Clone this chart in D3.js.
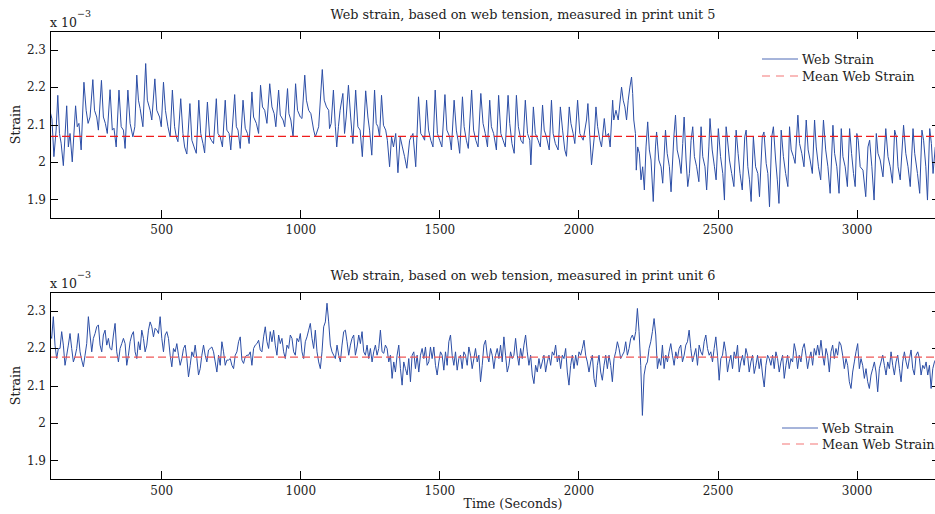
<!DOCTYPE html>
<html>
<head>
<meta charset="utf-8">
<script src="https://cdn.jsdelivr.net/npm/d3@7"></script>
<style>
  html, body { margin: 0; padding: 0; background: #fff; overflow: hidden; }
  svg { display: block; font-family: "DejaVu Serif", "Liberation Serif", serif; }
</style>
</head>
<body>
<svg id="chart" width="935" height="514"></svg>
<script>
// All strain values are expressed in units of 1e-3.
const timeTicks = [500, 1000, 1500, 2000, 2500, 3000];
const strainTicks = [1.9, 2, 2.1, 2.2, 2.3];
const timeDomain = [100, 3300];
const strainDomain = [1.85, 2.35];
const legendLabels = ["Web Strain", "Mean Web Strain"];
const panelTitles = [
  "Web strain, based on web tension, measured in print unit 5",
  "Web strain, based on web tension, measured in print unit 6"
];

// Print unit 5: sample times (s) and strain
const unit5Time = [
  100,102,107,114,122,128,134,140,148,160,
  166,172,180,192,198,204,212,222,230,237,
  244,254,260,268,274,285,292,299,306,316,
  324,330,338,348,356,364,370,380,388,398,
  405,412,418,424,434,444,450,460,466,477,
  484,494,500,508,515,524,532,540,548,554,
  560,570,578,584,592,603,610,618,626,635,
  642,650,656,666,674,680,688,698,704,712,
  720,730,736,744,750,764,770,776,784,794,
  802,810,816,826,832,842,850,857,864,872,
  880,890,898,906,912,922,928,938,944,954,
  959,966,974,983,990,1000,1006,1016,1022,1030,
  1038,1048,1054,1066,1079,1086,1094,1102,
  1105,1111,1119,1126,1131,1137,1143,1153,1159,1165,
  1173,1181,1189,1199,1207,1215,1223,1235,1243,1249,
  1257,1267,1273,1279,1285,1292,1299,1307,1313,1321,
  1328,1335,1343,1351,1359,1367,1375,1383,1393,1405,
  1415,1425,1433,1441,1447,1454,1461,1469,1477,1485,
  1493,1501,1509,1520,1527,1537,1543,1553,1561,1567,
  1573,1583,1589,1597,1604,1616,1623,1631,1639,1649,
  1657,1665,1673,1681,1687,1695,1705,1713,1721,1729,
  1737,1747,1753,1761,1769,1777,1784,1793,1801,1809,
  1817,1825,1829,1838,1845,1855,1863,1871,1877,1885,
  1895,1903,1909,1917,1927,1935,1943,1951,1957,1967,
  1973,1981,1987,1997,2005,2017,2029,2034,2041,2047,
  2057,2063,2069,2077,2083,2093,2099,2108,2114,2123,
  2127,2135,2143,2155,2161,2167,2173,2179,2185,2191,
  2195,2199,2205,2208,2213,2219,2225,2231,2237,2243,
  2249,2255,2261,2269,2277,2281,2289,2297,2303,2313,
  2319,2327,2333,2343,2349,2355,2363,2369,2375,2380,
  2387,2393,2399,2405,2411,2417,2425,2433,2441,2447,
  2455,2461,2469,2473,2481,2489,2495,2503,2511,2519,
  2525,2531,2535,2543,2551,2559,2567,2574,2581,2589,
  2598,2603,2609,2615,2621,2629,2637,2645,2651,2661,
  2667,2675,2681,2687,2695,2701,2709,2715,2721,2729,
  2737,2745,2753,2759,2765,2773,2779,2789,2795,2803,
  2811,2819,2826,2833,2841,2849,2855,2863,2871,2881,
  2889,2897,2905,2915,2921,2929,2937,2945,2951,2959,
  2967,2975,2982,2989,2995,3001,3006,3013,3023,3033,
  3041,3047,3055,3063,3071,3077,3085,3095,3105,3113,
  3121,3129,3137,3143,3149,3157,3169,3177,3185,3193,
  3203,3209,3219,3227,3235,3241,3249,3255,3263,3269,
  3275,3283
];
const unit5Strain = [
  2.19,2.13,2.115,2.014,2.085,2.178,2.076,2.05,1.99,2.15,
  2.04,2.076,2.0,2.15,2.094,2.103,2.032,2.213,2.138,2.103,
  2.12,2.22,2.138,2.12,2.085,2.218,2.12,2.103,2.076,2.193,
  2.085,2.09,2.04,2.192,2.094,2.085,2.036,2.192,2.103,2.067,
  2.094,2.232,2.165,2.143,2.094,2.263,2.165,2.138,2.112,2.222,
  2.138,2.12,2.094,2.213,2.138,2.094,2.067,2.192,2.094,2.067,
  2.054,2.169,2.076,2.04,2.021,2.156,2.058,2.04,2.023,2.165,
  2.076,2.049,2.024,2.16,2.067,2.058,2.049,2.169,2.076,2.067,
  2.04,2.165,2.085,2.076,2.032,2.18,2.094,2.085,2.036,2.165,
  2.09,2.076,2.049,2.187,2.12,2.103,2.076,2.205,2.147,2.138,
  2.103,2.209,2.147,2.129,2.094,2.192,2.125,2.112,2.094,2.196,
  2.129,2.112,2.067,2.209,2.138,2.12,2.116,2.232,2.165,2.138,
  2.129,2.085,2.067,2.094,2.247,2.165,2.147,2.138,
  2.089,2.103,2.192,2.094,2.04,2.094,2.138,2.183,2.076,2.12,
  2.205,2.12,2.049,2.192,2.094,2.085,2.014,2.19,2.12,2.085,
  2.018,2.192,2.103,2.094,2.067,2.178,2.098,2.085,2.058,1.987,
  2.067,2.04,2.076,1.971,2.067,2.04,2.014,1.983,2.058,2.076,
  1.987,2.174,2.076,2.067,2.058,2.165,2.085,2.058,2.04,2.192,
  2.076,2.058,2.04,2.18,2.085,2.067,2.032,2.165,2.085,2.058,
  2.023,2.174,2.094,2.058,2.036,2.192,2.085,2.058,2.04,2.183,
  2.103,2.076,2.04,2.165,2.094,2.076,2.032,2.178,2.076,2.058,
  2.04,2.178,2.103,2.049,2.023,2.178,2.094,2.058,2.049,2.165,
  2.076,2.058,1.992,2.147,2.076,2.058,2.04,2.152,2.085,2.067,
  2.032,2.165,2.076,2.049,2.032,2.147,2.085,2.032,2.015,2.147,
  2.103,2.076,2.049,2.165,2.076,2.058,2.112,2.156,2.067,1.992,
  2.067,2.147,2.094,2.058,2.04,2.116,2.067,2.076,2.04,2.165,
  2.112,2.138,2.112,2.2,2.165,2.147,2.112,2.165,2.2,2.227,
  2.183,2.112,2.076,1.978,2.04,2.023,1.952,1.987,1.925,2.04,
  2.107,2.032,2.005,1.894,2.04,2.08,2.005,1.987,1.943,2.085,
  2.023,1.987,1.92,2.067,2.125,2.032,2.005,1.969,2.049,2.12,
  2.005,1.934,1.969,2.058,2.094,2.014,1.987,1.947,2.094,2.014,
  1.987,1.925,2.04,2.116,2.032,1.987,1.952,2.089,2.014,1.969,
  1.898,2.094,2.067,2.005,1.969,1.934,2.085,2.023,1.969,1.925,
  2.067,2.085,1.987,1.952,1.894,2.067,1.987,1.969,1.907,2.067,
  2.08,1.996,1.969,1.88,2.067,2.094,2.005,1.952,1.889,2.085,
  2.014,1.969,1.934,2.094,2.032,2.014,1.996,2.125,2.049,2.023,
  1.987,2.112,2.032,2.005,1.969,2.112,2.04,1.987,1.952,2.112,
  2.032,1.987,1.916,2.098,2.023,1.987,1.916,2.089,2.014,1.987,
  1.934,2.089,2.023,1.969,1.934,2.076,2.058,1.987,1.978,1.907,
  2.04,2.058,1.987,1.898,2.076,2.023,2.005,1.96,2.089,2.014,
  1.987,1.943,2.085,2.067,1.987,1.952,2.098,2.023,1.987,1.934,
  2.089,2.023,1.969,1.916,2.085,2.058,1.987,1.898,2.089,2.049,
  1.969,2.04
];
const unit5Mean = 2.068;

// Print unit 6: strain logged every 6 s starting at t = 100 s
const unit6StartTime = 100;
const unit6Interval = 6;
const unit6Strain = [
  2.235,2.226,2.284,2.208,2.172,2.199,2.199,2.244,2.208,2.154,
  2.181,2.208,2.239,2.199,2.163,2.177,2.199,2.239,2.190,2.168,
  2.150,2.181,2.212,2.284,2.235,2.190,2.226,2.239,2.257,2.262,
  2.208,2.190,2.235,2.248,2.208,2.226,2.199,2.195,2.235,2.266,
  2.190,2.163,2.199,2.212,2.226,2.212,2.154,2.181,2.217,2.235,
  2.244,2.190,2.172,2.217,2.195,2.248,2.226,2.190,2.208,2.248,
  2.270,2.257,2.230,2.253,2.248,2.239,2.284,2.226,2.190,2.235,
  2.244,2.226,2.181,2.150,2.199,2.190,2.212,2.181,2.154,2.172,
  2.199,2.208,2.172,2.123,2.154,2.190,2.177,2.208,2.172,2.128,
  2.145,2.181,2.208,2.181,2.163,2.195,2.199,2.203,2.190,2.163,
  2.136,2.181,2.154,2.217,2.190,2.154,2.168,2.168,2.172,2.154,
  2.145,2.181,2.190,2.217,2.230,2.168,2.159,2.177,2.181,2.181,
  2.190,2.154,2.199,2.208,2.212,2.221,2.195,2.190,2.230,2.257,
  2.217,2.199,2.244,2.217,2.248,2.208,2.181,2.235,2.212,2.226,
  2.190,2.172,2.208,2.199,2.235,2.226,2.190,2.181,2.226,2.217,
  2.239,2.190,2.172,2.217,2.230,2.248,2.266,2.226,2.199,2.248,
  2.190,2.163,
  2.145,2.190,2.257,2.270,2.320,2.270,2.208,2.190,2.181,2.172,
  2.208,2.181,2.163,2.208,2.244,2.248,2.217,2.181,2.208,2.226,
  2.235,2.181,2.203,2.235,2.212,2.244,2.190,2.181,2.208,2.172,
  2.199,2.163,2.190,2.208,2.181,2.199,2.248,2.190,2.186,2.208,
  2.199,2.163,2.181,2.119,2.163,2.136,2.181,2.208,2.145,2.101,
  2.163,2.145,2.128,2.172,2.110,2.181,2.190,2.145,2.181,2.136,
  2.181,2.199,2.172,2.203,2.154,2.163,2.203,2.172,2.203,2.154,
  2.128,2.163,2.190,2.181,2.141,2.190,2.154,2.217,2.235,2.181,
  2.154,2.190,2.141,2.172,2.181,2.145,2.190,2.181,2.154,2.203,
  2.181,2.145,2.172,2.199,2.163,2.181,2.110,2.154,2.208,2.221,
  2.181,2.163,2.199,2.181,2.145,2.181,2.199,2.172,2.208,2.163,
  2.230,2.181,2.136,2.154,2.190,2.172,2.181,2.226,2.181,2.154,
  2.199,2.172,2.208,2.235,2.190,2.154,2.181,2.128,2.105,2.154,
  2.136,2.172,2.145,2.163,2.181,2.136,2.163,2.181,2.154,2.190,
  2.181,2.208,2.163,2.181,2.145,2.181,2.172,2.199,2.136,2.101,
  2.154,2.181,2.145,2.181,2.154,2.190,2.181,2.199,2.221,2.181,
  2.163,2.136,2.163,2.181,2.119,2.096,2.154,2.181,2.136,2.114,
  2.154,2.181,2.145,2.181,2.154,2.110,2.172,2.190,2.217,2.199,
  2.172,2.181,2.190,2.217,2.181,2.199,2.226,2.235,2.221,2.244,
  2.306,2.244,2.154,2.020,2.128,2.154,2.163,2.199,2.217,2.244,
  2.279,2.235,2.145,2.172,2.154,2.208,2.145,2.181,2.163,2.190,
  2.212,2.181,2.154,2.190,2.172,2.199,2.208,2.163,2.181,2.208,
  2.217,2.248,2.199,2.163,2.181,2.199,2.154,2.208,2.190,2.181,
  2.217,2.235,2.199,2.181,2.190,2.163,2.199,2.230,2.181,2.114,
  2.172,2.181,2.217,2.190,2.136,2.163,2.181,2.145,2.190,2.172,
  2.208,2.136,2.163,2.181,2.154,2.199,2.181,2.136,2.163,2.181,
  2.132,2.154,2.181,2.145,2.172,2.128,2.096,2.154,2.181,2.172,
  2.154,2.181,2.145,2.190,2.172,2.136,2.163,2.181,2.119,2.154,
  2.181,2.145,2.172,2.163,2.212,2.190,2.145,2.181,2.163,2.199,
  2.212,2.181,2.145,2.172,2.190,2.154,2.199,2.181,2.208,2.181,
  2.221,2.181,2.154,2.199,2.181,2.136,2.190,2.208,2.172,2.199,
  2.181,2.217,2.208,2.181,2.145,2.172,2.154,2.110,2.092,2.136,
  2.163,2.190,2.212,2.145,2.172,2.154,2.119,2.145,2.110,2.092,
  2.128,2.145,2.163,2.136,2.083,2.145,2.163,2.181,2.154,2.128,
  2.163,2.145,2.190,2.154,2.128,2.163,2.181,2.145,2.110,2.163,
  2.190,2.163,2.145,2.172,2.195,2.145,2.128,2.181,2.190,2.172,
  2.128,2.154,2.145,2.163,2.128,2.154,2.092,2.145,2.163,2.172
];
const unit6Mean = 2.176;

// ---- layout ----
const W = 935, H = 514;
const plotLeft = 50, plotRight = 940;   // right border sits just past the page edge
const titleCenter = 523;
const panels = [
  {
    title: panelTitles[0], top: 31, bottom: 218,
    series: unit5Time.map((t, i) => ({ t, v: unit5Strain[i] })),
    mean: unit5Mean, meanColor: "#f01c1c",
    legend: { x: 762, y: 59, gap: 17 },
    xLabel: null
  },
  {
    title: panelTitles[1], top: 292, bottom: 479,
    series: unit6Strain.map((v, i) => ({ t: unit6StartTime + i * unit6Interval, v })),
    mean: unit6Mean, meanColor: "#f05858",
    legend: { x: 782, y: 428, gap: 16 },
    xLabel: "Time (Seconds)"
  }
];

const lineColor = "#2c4ea6";
const legendLineColor = "#4f6bb6";
const legendDashColor = "#f37777";
const textColor = "#222";
const tickLen = 8;

const svg = d3.select("#chart");
svg.append("rect").attr("width", W).attr("height", H).attr("fill", "#fff");

const x = d3.scaleLinear().domain(timeDomain).range([plotLeft, plotRight]);
const fmtStrain = d => String(+d.toFixed(1));

panels.forEach((p, pi) => {
  const y = d3.scaleLinear().domain(strainDomain).range([p.bottom, p.top]);
  const g = svg.append("g");

  const clipId = "clip" + pi;
  g.append("clipPath").attr("id", clipId)
    .append("rect")
    .attr("x", plotLeft).attr("y", p.top)
    .attr("width", plotRight - plotLeft).attr("height", p.bottom - p.top);

  // data line
  const line = d3.line().x(d => x(d.t)).y(d => y(d.v));
  g.append("path")
    .datum(p.series)
    .attr("clip-path", `url(#${clipId})`)
    .attr("fill", "none")
    .attr("stroke", lineColor)
    .attr("stroke-width", 1)
    .attr("stroke-linejoin", "round")
    .attr("d", line);

  // mean line
  g.append("line")
    .attr("x1", x(timeDomain[0])).attr("x2", x(timeDomain[1]))
    .attr("y1", y(p.mean)).attr("y2", y(p.mean))
    .attr("stroke", p.meanColor)
    .attr("stroke-width", 1.2)
    .attr("stroke-dasharray", "8,4");

  // axes with inward ticks on all four sides
  const styleAxis = sel => {
    sel.attr("font-family", null).attr("font-size", null);
    sel.select(".domain").remove();
    sel.selectAll(".tick line").attr("stroke", "#000").attr("shape-rendering", "crispEdges");
    sel.selectAll(".tick text").attr("fill", textColor).style("font-size", "12px");
  };
  g.append("g").attr("transform", `translate(0,${p.bottom})`)
    .call(d3.axisBottom(x).tickValues(timeTicks).tickSizeInner(-tickLen).tickSizeOuter(0)
      .tickPadding(7).tickFormat(d3.format("d")))
    .call(styleAxis);
  g.append("g").attr("transform", `translate(0,${p.top})`)
    .call(d3.axisTop(x).tickValues(timeTicks).tickSizeInner(-tickLen).tickSizeOuter(0).tickFormat(""))
    .call(styleAxis);
  g.append("g").attr("transform", `translate(${plotLeft},0)`)
    .call(d3.axisLeft(y).tickValues(strainTicks).tickSizeInner(-tickLen).tickSizeOuter(0)
      .tickPadding(4).tickFormat(fmtStrain))
    .call(styleAxis);
  g.append("g").attr("transform", `translate(${plotRight},0)`)
    .call(d3.axisRight(y).tickValues(strainTicks).tickSizeInner(-tickLen).tickSizeOuter(0).tickFormat(""))
    .call(styleAxis);

  // frame
  g.append("rect")
    .attr("x", plotLeft).attr("y", p.top)
    .attr("width", plotRight - plotLeft).attr("height", p.bottom - p.top)
    .attr("fill", "none").attr("stroke", "#000").attr("stroke-width", 1)
    .attr("shape-rendering", "crispEdges");

  // exponent marker
  const ex = g.append("text").attr("x", plotLeft).attr("y", p.top - 4)
    .attr("fill", textColor).style("font-size", "12.5px");
  ex.append("tspan").text("x 10");
  ex.append("tspan").attr("dy", -10).style("font-size", "9.5px").text("\u22123");

  // title
  g.append("text")
    .attr("x", titleCenter).attr("y", p.top - 12)
    .attr("text-anchor", "middle").attr("fill", textColor)
    .style("font-size", "12.8px")
    .text(p.title);

  // y label
  g.append("text")
    .attr("transform", `translate(20,${(p.top + p.bottom) / 2}) rotate(-90)`)
    .attr("text-anchor", "middle").attr("fill", textColor)
    .style("font-size", "12.6px")
    .text("Strain");

  // legend
  const lg = g.append("g").attr("transform", `translate(${p.legend.x},${p.legend.y})`);
  lg.append("line").attr("x1", 0).attr("x2", 36).attr("y1", 0).attr("y2", 0)
    .attr("stroke", legendLineColor).attr("stroke-width", 1);
  lg.append("line").attr("x1", 0).attr("x2", 36).attr("y1", p.legend.gap).attr("y2", p.legend.gap)
    .attr("stroke", legendDashColor).attr("stroke-width", 1.2).attr("stroke-dasharray", "8,6");
  legendLabels.forEach((lab, i) => {
    lg.append("text").attr("x", 40).attr("y", i * p.legend.gap + 4.5)
      .attr("fill", textColor).style("font-size", "12.8px").text(lab);
  });

  if (p.xLabel) {
    g.append("text")
      .attr("x", 513).attr("y", p.bottom + 29)
      .attr("text-anchor", "middle").attr("fill", textColor)
      .style("font-size", "12.6px")
      .text(p.xLabel);
  }
});
</script>
</body>
</html>
